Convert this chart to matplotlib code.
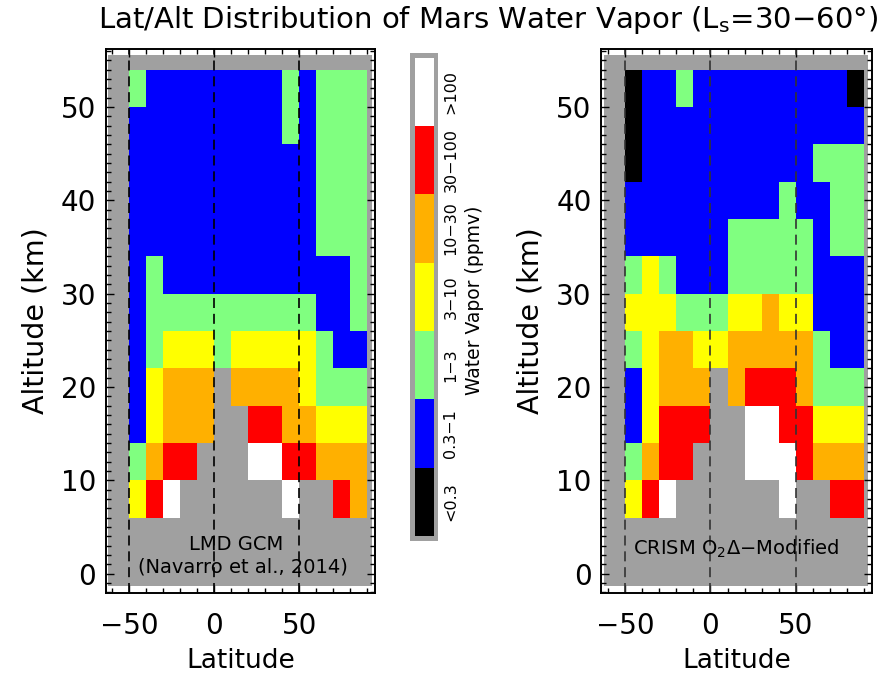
import numpy as np
import matplotlib
matplotlib.use("Agg")
import matplotlib.pyplot as plt
from matplotlib.colors import ListedColormap, BoundaryNorm
from matplotlib.patches import Rectangle
from matplotlib.ticker import MultipleLocator, FixedLocator

plt.rcParams['font.family'] = ['DejaVu Sans']
plt.rcParams['axes.unicode_minus'] = True

W, H = 881, 675

# bin edges
lat_edges = np.arange(-50, 91, 10)
alt_edges = np.arange(6, 55, 4)

# category index: 0 <0.3, 1 0.3-1, 2 1-3, 3 3-10, 4 10-30, 5 30-100, 6 >100, -1 no data
# rows listed from top (50-54 km) down to bottom (6-10 km)
lmd_rows = [
    [2, 1, 1, 1, 1, 1, 1, 1, 1, 2, 1, 2, 2, 2],
    [1, 1, 1, 1, 1, 1, 1, 1, 1, 2, 1, 2, 2, 2],
    [1, 1, 1, 1, 1, 1, 1, 1, 1, 1, 1, 2, 2, 2],
    [1, 1, 1, 1, 1, 1, 1, 1, 1, 1, 1, 2, 2, 2],
    [1, 1, 1, 1, 1, 1, 1, 1, 1, 1, 1, 2, 2, 2],
    [1, 2, 1, 1, 1, 1, 1, 1, 1, 1, 1, 1, 1, 2],
    [1, 2, 2, 2, 2, 2, 2, 2, 2, 2, 2, 1, 1, 2],
    [1, 2, 3, 3, 3, 2, 3, 3, 3, 3, 3, 2, 1, 1],
    [1, 3, 4, 4, 4, -1, 4, 4, 4, 4, 3, 2, 2, 2],
    [1, 3, 4, 4, 4, -1, -1, 5, 5, 4, 4, 3, 3, 3],
    [2, 4, 5, 5, -1, -1, -1, 6, 6, 5, 5, 4, 4, 4],
    [3, 5, 6, -1, -1, -1, -1, -1, -1, 6, -1, -1, 5, 4],
]

crism_rows = [
    [0, 1, 1, 2, 1, 1, 1, 1, 1, 1, 1, 1, 1, 0],
    [0, 1, 1, 1, 1, 1, 1, 1, 1, 1, 1, 1, 1, 1],
    [0, 1, 1, 1, 1, 1, 1, 1, 1, 1, 1, 2, 2, 2],
    [1, 1, 1, 1, 1, 1, 1, 1, 1, 2, 1, 1, 2, 2],
    [1, 1, 1, 1, 1, 1, 2, 2, 2, 2, 2, 1, 2, 2],
    [2, 3, 2, 1, 1, 1, 2, 2, 2, 2, 2, 1, 1, 1],
    [3, 3, 3, 2, 2, 2, 3, 3, 4, 3, 3, 1, 1, 1],
    [2, 3, 4, 4, 3, 3, 4, 4, 4, 4, 4, 2, 1, 1],
    [1, 3, 4, 4, 4, -1, 4, 5, 5, 5, 4, 2, 2, 2],
    [1, 3, 5, 5, 5, -1, -1, 6, 6, 5, 5, 3, 3, 3],
    [2, 4, 5, 5, -1, -1, -1, 6, 6, 6, 5, 4, 4, 4],
    [3, 5, 6, -1, -1, -1, -1, -1, -1, 6, -1, -1, 5, 5],
]

bin_labels = ['<0.3', '0.3\u22121', '1\u22123', '3\u221210', '10\u221230', '30\u2212100', '>100']
bin_colors = ['#000000', '#0000ff', '#80ff80', '#ffff00', '#ffb000', '#ff0000', '#ffffff']
gray = '#a0a0a0'

cmap = ListedColormap(bin_colors)
norm = BoundaryNorm(np.arange(-0.5, 7.5, 1), cmap.N)


def px(x, y):
    return x / W, 1 - y / H


def draw_panel(ax, rows, dash_color):
    grid = np.ma.masked_less(np.array(rows[::-1], dtype=float), 0)
    ax.add_patch(Rectangle((-62.5, -1.3), 155.0, 56.9, facecolor=gray,
                           edgecolor='none', zorder=0))
    ax.pcolormesh(lat_edges, alt_edges, grid, cmap=cmap, norm=norm, zorder=1)
    for x in (-50, 0, 50):
        ax.axvline(x, color=dash_color, lw=1.2, ls=(0, (6, 3.5)), zorder=2)
    ax.set_xlim(-64, 94.5)
    ax.set_ylim(-2.05, 56.2)
    ax.xaxis.set_major_locator(FixedLocator([-50, 0, 50]))
    ax.xaxis.set_minor_locator(MultipleLocator(10))
    ax.yaxis.set_major_locator(MultipleLocator(10))
    ax.yaxis.set_minor_locator(MultipleLocator(1))
    ax.tick_params(which='both', direction='in', top=True, right=True,
                   width=1.0, labelsize=20)
    ax.tick_params(which='major', length=6)
    ax.tick_params(which='minor', length=3.5)
    ax.tick_params(axis='x', pad=14)
    ax.tick_params(axis='y', pad=7)
    for s in ax.spines.values():
        s.set_linewidth(1.4)
    ax.set_xlabel('Latitude', fontsize=19, labelpad=6)
    ax.set_ylabel('Altitude (km)', fontsize=20.5, labelpad=8)


fig = plt.figure(figsize=(W / 100, H / 100), dpi=100)

ax1 = fig.add_axes([105.7 / W, 1 - 592.7 / H, 269.3 / W, 543.4 / H])
draw_panel(ax1, lmd_rows, 'black')
ax1.text(13, 3.1, 'LMD GCM', fontsize=14, ha='center', va='center', zorder=3)
ax1.text(17, 0.7, '(Navarro et al., 2014)', fontsize=14, ha='center',
         va='center', zorder=3)

ax2 = fig.add_axes([601.3 / W, 1 - 592.7 / H, 270.4 / W, 543.4 / H])
draw_panel(ax2, crism_rows, '#333333')
ax2.text(15, 2.7, 'CRISM O$_2\\Delta$\u2212Modified', fontsize=14,
         ha='center', va='center', zorder=3)

# colour bar
cax = fig.add_axes([410 / W, 1 - 540.7 / H, 28.3 / W, 487.4 / H])
cax.set_facecolor(gray)
cax.pcolormesh([0, 1], np.arange(8), np.arange(7).reshape(7, 1), cmap=cmap, norm=norm)
cax.set_xlim(-5 / 19, 1 + 4.3 / 19)
cax.set_ylim(-4.7 / 68.3, 7 + 4.4 / 68.3)
cax.set_xticks([])
cax.set_yticks([])
for s in cax.spines.values():
    s.set_visible(False)

seg_h = (536 - 57.7) / 7
for i, lab in enumerate(bin_labels):
    yc = 536 - seg_h * (i + 0.5)
    fig.text(*px(451, yc), lab, fontsize=11.5, rotation=90, ha='center', va='center')
fig.text(*px(474, 300), 'Water Vapor (ppmv)', fontsize=13.5, rotation=90,
         ha='center', va='center')

fig.text(*px(488, 20), 'Lat/Alt Distribution of Mars Water Vapor (L$_\\mathrm{s}$=30\u221260\u00b0)',
         fontsize=21, ha='center', va='center')

fig.savefig('out.png', dpi=100)
